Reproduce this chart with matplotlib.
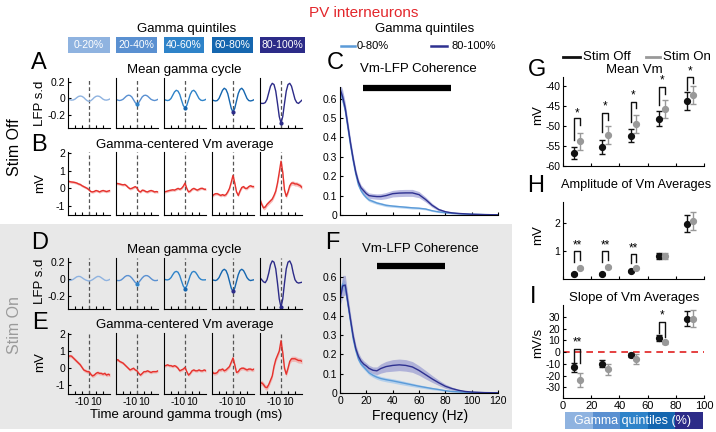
import numpy as np
import matplotlib
matplotlib.use('Agg')
import matplotlib.pyplot as plt
from matplotlib.patches import Rectangle
from matplotlib.lines import Line2D

plt.rcParams['font.family'] = ['Liberation Sans', 'DejaVu Sans']
plt.rcParams['axes.unicode_minus'] = False
plt.rcParams['axes.linewidth'] = 0.8

# ---------------- data ----------------
quintile_labels = ['0-20%', '20-40%', '40-60%', '60-80%', '80-100%']
quintile_colors = ['#8fb3e0', '#5a90d1', '#2e83c9', '#1566af', '#2c2b88']

t_ms = [-30, -27.5, -25, -22.5, -20, -17.5, -15, -12.5, -10, -7.5, -5, -2.5, 0,
        2.5, 5, 7.5, 10, 12.5, 15, 17.5, 20, 22.5, 25, 27.5, 30]

lfp_off = [
    [-0.005, -0.015, -0.02, -0.018, -0.008, 0.01, 0.025, 0.03, 0.026, 0.012, -0.01, -0.027, -0.035,
     -0.027, -0.01, 0.012, 0.026, 0.03, 0.025, 0.01, -0.008, -0.018, -0.02, -0.015, -0.005],
    [-0.01, -0.02, -0.025, -0.02, -0.01, 0.01, 0.03, 0.04, 0.037, 0.02, -0.015, -0.05, -0.07,
     -0.05, -0.015, 0.02, 0.037, 0.04, 0.03, 0.01, -0.01, -0.02, -0.025, -0.02, -0.01],
    [-0.01, -0.02, -0.025, -0.02, 0.0, 0.04, 0.08, 0.10, 0.09, 0.05, -0.02, -0.085, -0.115,
     -0.085, -0.02, 0.05, 0.09, 0.10, 0.08, 0.04, 0.0, -0.02, -0.025, -0.02, -0.01],
    [-0.015, -0.025, -0.03, -0.025, 0.0, 0.05, 0.10, 0.125, 0.11, 0.06, -0.03, -0.12, -0.167,
     -0.12, -0.03, 0.06, 0.11, 0.125, 0.10, 0.05, 0.0, -0.025, -0.03, -0.025, -0.015],
    [-0.056, -0.06, -0.06, -0.05, -0.01, 0.07, 0.15, 0.185, 0.17, 0.09, -0.06, -0.22, -0.30,
     -0.22, -0.06, 0.09, 0.17, 0.185, 0.15, 0.07, -0.01, -0.05, -0.06, -0.04, -0.02],
]
lfp_on = [
    [-0.02, -0.02, -0.015, -0.005, 0.01, 0.025, 0.03, 0.028, 0.015, 0.0, -0.012, -0.02, -0.025,
     -0.02, -0.01, 0.005, 0.02, 0.03, 0.028, 0.015, 0.0, -0.015, -0.02, -0.015, -0.005],
    [-0.015, -0.02, -0.02, -0.012, 0.005, 0.025, 0.038, 0.04, 0.032, 0.012, -0.015, -0.042, -0.055,
     -0.042, -0.015, 0.012, 0.032, 0.04, 0.038, 0.025, 0.005, -0.012, -0.02, -0.02, -0.015],
    [0.0, -0.01, -0.012, -0.005, 0.015, 0.05, 0.08, 0.09, 0.08, 0.04, -0.025, -0.085, -0.115,
     -0.085, -0.025, 0.04, 0.08, 0.09, 0.08, 0.05, 0.015, -0.005, -0.012, -0.012, -0.01],
    [-0.01, -0.015, -0.02, -0.01, 0.015, 0.06, 0.10, 0.115, 0.10, 0.05, -0.03, -0.11, -0.15,
     -0.11, -0.03, 0.05, 0.10, 0.115, 0.10, 0.06, 0.015, -0.01, -0.02, -0.015, -0.01],
    [0.015, -0.01, -0.035, -0.045, -0.01, 0.07, 0.17, 0.215, 0.20, 0.12, -0.05, -0.24, -0.34,
     -0.24, -0.05, 0.12, 0.20, 0.215, 0.17, 0.07, -0.01, -0.04, -0.05, -0.045, -0.04],
]

vm_off = [
    [0.41, 0.38, 0.36, 0.35, 0.33, 0.30, 0.25, 0.22, 0.15, 0.10, 0.05, 0.0, -0.08,
     -0.18, -0.2, -0.17, -0.12, -0.15, -0.2, -0.15, -0.12, -0.15, -0.18, -0.15, -0.12],
    [0.28, 0.27, 0.25, 0.22, 0.2, 0.22, 0.15, 0.05, -0.02, 0.0, 0.05, 0.1, 0.02,
     -0.15, -0.2, -0.1, -0.12, -0.18, -0.2, -0.15, -0.12, -0.15, -0.2, -0.18, -0.2],
    [-0.2, -0.18, -0.15, -0.12, -0.1, -0.08, -0.1, -0.05, 0.0, -0.05, 0.0, 0.12, 0.3,
     0.0, -0.2, -0.15, -0.05, 0.0, -0.05, -0.1, -0.05, 0.0, 0.0, -0.05, -0.05],
    [-0.45, -0.35, -0.3, -0.3, -0.35, -0.4, -0.35, -0.4, -0.35, -0.2, 0.0, 0.35, 0.73,
     0.3, -0.2, -0.4, -0.15, 0.05, 0.1, 0.0, 0.0, 0.1, 0.15, 0.1, 0.1],
    [-0.62, -0.9, -1.1, -1.05, -0.9, -0.8, -0.7, -0.6, -0.4, -0.15, 0.3, 0.9, 1.53,
     0.9, -0.1, -0.45, -0.2, 0.15, 0.3, 0.3, 0.25, 0.25, 0.2, 0.15, 0.05],
]
vm_on = [
    [0.66, 0.72, 0.7, 0.6, 0.5, 0.4, 0.3, 0.2, 0.05, -0.1, -0.15, -0.2, -0.2,
     -0.35, -0.45, -0.4, -0.3, -0.25, -0.3, -0.3, -0.35, -0.3, -0.4, -0.35, -0.4],
    [0.45, 0.5, 0.4, 0.35, 0.3, 0.2, 0.1, 0.0, -0.1, -0.05, 0.0, -0.1, -0.15,
     -0.3, -0.4, -0.3, -0.2, -0.2, -0.15, -0.2, -0.25, -0.2, -0.2, -0.2, -0.15],
    [0.15, 0.15, 0.2, 0.15, 0.15, 0.1, 0.15, 0.1, 0.0, -0.15, -0.1, -0.05, 0.05,
     -0.2, -0.4, -0.3, -0.15, -0.1, -0.15, -0.15, -0.1, -0.15, -0.15, -0.1, -0.15],
    [-0.2, -0.3, -0.3, -0.25, -0.1, -0.1, -0.05, -0.15, -0.1, 0.0, 0.1, 0.35, 0.6,
     0.2, -0.25, -0.2, -0.05, 0.0, 0.0, -0.05, -0.1, -0.05, -0.05, -0.1, -0.05],
    [-0.9, -0.85, -0.95, -1.1, -1.13, -0.95, -0.7, -0.45, 0.1, 0.5, 0.75, 1.0, 1.6,
     0.9, 0.0, -0.35, 0.0, 0.4, 0.55, 0.55, 0.55, 0.5, 0.45, 0.45, 0.4],
]
vm_sem_off = [0.07, 0.07, 0.07, 0.08, 0.12]
vm_sem_on = [0.1, 0.08, 0.08, 0.1, 0.15]

freq_hz = [0.5, 2, 4, 6, 8, 10, 12, 14, 16, 18, 20, 22, 25, 28, 31, 35, 40, 45, 50, 55,
           60, 65, 70, 75, 80, 85, 90, 95, 100, 110, 120]
coh_off_low = [0.63, 0.60, 0.54, 0.45, 0.36, 0.28, 0.21, 0.155, 0.125, 0.105, 0.09, 0.078, 0.07,
               0.062, 0.057, 0.05, 0.046, 0.043, 0.04, 0.037, 0.035, 0.031, 0.022, 0.016, 0.012,
               0.009, 0.007, 0.005, 0.004, 0.002, 0.001]
coh_off_high = [0.64, 0.61, 0.55, 0.46, 0.37, 0.29, 0.22, 0.17, 0.14, 0.125, 0.11, 0.10, 0.097,
                0.095, 0.095, 0.10, 0.11, 0.113, 0.114, 0.114, 0.105, 0.08, 0.05, 0.028, 0.017,
                0.011, 0.008, 0.006, 0.004, 0.002, 0.001]
coh_on_low = [0.52, 0.565, 0.55, 0.46, 0.37, 0.28, 0.22, 0.175, 0.15, 0.135, 0.12, 0.105, 0.092,
              0.082, 0.075, 0.069, 0.063, 0.056, 0.049, 0.042, 0.035, 0.029, 0.023, 0.018, 0.012,
              0.008, 0.006, 0.004, 0.003, 0.001, 0.0005]
coh_on_high = [0.50, 0.555, 0.56, 0.47, 0.38, 0.295, 0.23, 0.19, 0.165, 0.15, 0.14, 0.128, 0.118,
               0.115, 0.127, 0.137, 0.143, 0.146, 0.143, 0.135, 0.117, 0.095, 0.073, 0.053, 0.035,
               0.023, 0.014, 0.008, 0.005, 0.002, 0.001]
sem_off_low = [0.03, 0.03, 0.025, 0.02, 0.018, 0.015, 0.012, 0.01, 0.01, 0.009, 0.008, 0.008, 0.008,
               0.007, 0.007, 0.007, 0.006, 0.006, 0.006, 0.006, 0.005, 0.005, 0.004, 0.004, 0.003,
               0.003, 0.002, 0.002, 0.002, 0.001, 0.001]
sem_off_high = [0.035, 0.035, 0.03, 0.025, 0.022, 0.02, 0.018, 0.016, 0.015, 0.015, 0.014, 0.014,
                0.014, 0.014, 0.015, 0.016, 0.017, 0.018, 0.018, 0.018, 0.016, 0.013, 0.01, 0.007,
                0.005, 0.004, 0.003, 0.002, 0.002, 0.001, 0.001]
sem_on_low = [0.03, 0.03, 0.028, 0.024, 0.02, 0.017, 0.015, 0.013, 0.012, 0.012, 0.011, 0.011,
              0.011, 0.011, 0.011, 0.011, 0.011, 0.011, 0.01, 0.009, 0.008, 0.007, 0.006, 0.005,
              0.004, 0.003, 0.003, 0.002, 0.002, 0.001, 0.001]
sem_on_high = [0.04, 0.055, 0.05, 0.04, 0.03, 0.025, 0.022, 0.02, 0.018, 0.017, 0.016, 0.016,
               0.017, 0.02, 0.024, 0.027, 0.03, 0.03, 0.03, 0.028, 0.025, 0.022, 0.018, 0.014,
               0.011, 0.008, 0.006, 0.004, 0.003, 0.002, 0.001]
gamma_band_off = [17.5, 84]
gamma_band_on = [28, 80]

x_off = [8, 28, 48, 68, 88]
x_on = [12, 32, 52, 72, 92]
g_off = [-56.75, -55.25, -52.4, -48.2, -43.8]
g_off_err = [1.55, 1.75, 1.7, 1.9, 2.2]
g_on = [-53.8, -52.2, -49.6, -45.8, -42.4]
g_on_err = [2.1, 2.3, 2.2, 2.2, 2.25]
h_off = [0.19, 0.19, 0.27, 0.82, 1.98]
h_off_err = [0.03, 0.03, 0.03, 0.1, 0.31]
h_on = [0.39, 0.42, 0.41, 0.82, 2.07]
h_on_err = [0.03, 0.03, 0.03, 0.1, 0.33]
i_off = [-13, -10, -2.5, 12, 28.5]
i_off_err = [3.5, 3, 2, 2.5, 6.5]
i_on = [-23.7, -14.7, -6, 8.2, 28.5]
i_on_err = [6, 5, 4.5, 1, 7.5]

# brackets: (index, left foot, top, right foot, star y, label)
g_brackets = [(0, -53.6, -48.1, -49.8, -46.9, '*'), (1, -51.5, -46.7, -48.6, -45.2, '*'),
              (2, -49.0, -44.0, -45.6, -42.3, '*'), (3, -44.8, -40.2, -42.0, -38.6, '*'),
              (4, -41.1, -37.9, -39.4, -36.3, '*')]
h_brackets = [(0, 0.62, 1.0, 0.68, 1.21, '**'), (1, 0.62, 1.0, 0.68, 1.21, '**'),
              (2, 0.56, 0.89, 0.62, 1.09, '**')]
i_brackets = [(0, -8, 2.3, -9, 8, '**'), (3, 15.8, 25.7, 13, 31, '*')]

# ---------------- figure ----------------
W, H = 716, 432
fig = plt.figure(figsize=(W / 100, H / 100), dpi=100)


def rect(x0, y0, x1, y1):
    return [x0 / W, 1 - y1 / H, (x1 - x0) / W, (y1 - y0) / H]


def T(x, y, s, **kw):
    kw.setdefault('ha', 'center')
    kw.setdefault('va', 'center')
    return fig.text(x / W, 1 - y / H, s, **kw)


def fig_line(x0, x1, y, **kw):
    fig.add_artist(Line2D([x0 / W, x1 / W], [1 - y / H, 1 - y / H],
                          transform=fig.transFigure, **kw))


# gray background for Stim On
fig.patches.append(Rectangle((0, 1 - 429 / H), 512 / W, (429 - 224) / H,
                             transform=fig.transFigure, facecolor='#e8e8e8',
                             edgecolor='none', zorder=-10))

TICK = 7.5
TTL = 9.5


def style(ax):
    ax.patch.set_alpha(0)
    for s in ['top', 'right']:
        ax.spines[s].set_visible(False)
    ax.tick_params(direction='in', length=2.5, width=0.8, labelsize=TICK, pad=2)


lefts = [68, 116, 164, 212, 260]
pw = 42
rows = {'A': (78, 128), 'B': (152, 215), 'D': (258, 309), 'E': (333, 394)}
red = '#e5322d'

for key, (y0, y1) in rows.items():
    for q in range(5):
        ax = fig.add_axes(rect(lefts[q], y0, lefts[q] + pw, y1))
        style(ax)
        ax.set_xlim(-30, 30)
        ax.axvline(0, color='#555555', ls=(0, (3, 2)), lw=0.9)
        if key in ('A', 'D'):
            data = lfp_off[q] if key == 'A' else lfp_on[q]
            ax.plot(t_ms, data, color=quintile_colors[q], lw=1.0)
            if q > 0:
                ax.plot([0], [data[12]], 'o', ms=2, color=quintile_colors[min(q + 1, 4)])
            ax.set_ylim(-0.36, 0.25)
            ax.set_yticks([-0.2, 0, 0.2])
            ax.set_yticklabels(['-0.2', '0', '0.2'])
        else:
            data = np.array(vm_off[q] if key == 'B' else vm_on[q])
            sem = vm_sem_off[q] if key == 'B' else vm_sem_on[q]
            ax.fill_between(t_ms, data - sem, data + sem, color='#f4a3a0', alpha=0.7, lw=0)
            ax.plot(t_ms, data, color=red, lw=1.0)
            ax.set_ylim(-1.5, 2.05)
            ax.set_yticks([-1, 0, 1, 2])
            ax.set_yticklabels(['-1', '0', '1', '2'])
        ax.set_xticks([-20, -10, 0, 10, 20])
        if key == 'E':
            ax.set_xticklabels(['', '-10', '', '10', ''])
        else:
            ax.set_xticklabels([])
        if q > 0:
            ax.tick_params(axis='y', left=False, labelleft=False)

# quintile legend boxes
box_x = [(68, 110), (116, 157), (164, 204), (212, 253), (260, 305)]
for (bx0, bx1), lab, col in zip(box_x, quintile_labels, quintile_colors):
    fig.patches.append(Rectangle((bx0 / W, 1 - 53 / H), (bx1 - bx0) / W, 16 / H,
                                 transform=fig.transFigure, facecolor=col, edgecolor='none'))
    T((bx0 + bx1) / 2, 45, lab, color='white', fontsize=7.5)

T(187, 29, 'Gamma quintiles', fontsize=TTL)
T(364, 13, 'PV interneurons', fontsize=11, color='#e3262b')

# titles and labels left
T(184, 70, 'Mean gamma cycle', fontsize=TTL)
T(185, 145, 'Gamma-centered Vm average', fontsize=TTL)
T(184, 250, 'Mean gamma cycle', fontsize=TTL)
T(185, 325, 'Gamma-centered Vm average', fontsize=TTL)
T(186, 415, 'Time around gamma trough (ms)', fontsize=TTL)
T(40, 103, 'LFP s.d', fontsize=TTL, rotation=90)
T(40, 183, 'mV', fontsize=TTL, rotation=90)
T(40, 281, 'LFP s.d', fontsize=TTL, rotation=90)
T(40, 362, 'mV', fontsize=TTL, rotation=90)
T(15, 147, 'Stim Off', fontsize=11.5, rotation=90)
T(15, 325, 'Stim On', fontsize=11.5, rotation=90, color='#9a9a9a')

for lt, (lx, ly) in {'A': (39, 63), 'B': (39, 145), 'C': (335, 63), 'D': (40, 243),
                     'E': (40, 323), 'F': (332, 243), 'G': (537, 70), 'H': (536, 186),
                     'I': (533, 297)}.items():
    T(lx, ly, lt, fontsize=17)

# ---------------- coherence panels ----------------
light_c = '#5b9bd8'
dark_c = '#2e3190'


def coh_panel(box, low, high, slow, shigh, band, bar_y, ytop, xlabels):
    ax = fig.add_axes(rect(*box))
    style(ax)
    f = np.array(freq_hz)
    low, high = np.array(low), np.array(high)
    ax.fill_between(f, low - np.array(slow), low + np.array(slow), color='#9fc6ee', alpha=0.7, lw=0)
    ax.fill_between(f, high - np.array(shigh), high + np.array(shigh), color='#8386cc', alpha=0.55, lw=0)
    ax.plot(f, low, color=light_c, lw=1.0)
    ax.plot(f, high, color=dark_c, lw=1.0)
    ax.plot(band, [bar_y, bar_y], color='k', lw=4.5, solid_capstyle='butt', clip_on=False)
    ax.set_xlim(0, 120)
    ax.set_ylim(0, ytop)
    ax.set_yticks([0, 0.1, 0.2, 0.3, 0.4, 0.5, 0.6])
    ax.set_yticklabels(['0', '0.1', '0.2', '0.3', '0.4', '0.5', '0.6'])
    ax.set_xticks([0, 20, 40, 60, 80, 100, 120])
    if xlabels:
        ax.set_xticklabels(['0', '20', '40', '60', '80', '100', '120'])
    else:
        ax.set_xticklabels([])
    return ax


coh_panel((340, 87, 498, 215), coh_off_low, coh_off_high, sem_off_low, sem_off_high,
          gamma_band_off, 0.655, 0.66, False)
coh_panel((340, 258, 498, 393), coh_on_low, coh_on_high, sem_on_low, sem_on_high,
          gamma_band_on, 0.658, 0.70, True)
T(418, 69, 'Vm-LFP Coherence', fontsize=TTL)
T(420, 249, 'Vm-LFP Coherence', fontsize=TTL)
T(420, 416, 'Frequency (Hz)', fontsize=10)

T(425, 29, 'Gamma quintiles', fontsize=TTL)
fig_line(341, 355, 46, color=light_c, lw=1.8)
T(357, 46, '0-80%', fontsize=8, ha='left')
fig_line(431, 447, 46, color=dark_c, lw=1.8)
T(452, 46, '80-100%', fontsize=8, ha='left')

# ---------------- G / H / I ----------------
fig_line(563, 580, 57, color='#111111', lw=2)
T(583, 57, 'Stim Off', fontsize=9.5, ha='left')
fig_line(646, 660, 57, color='#999999', lw=2)
T(663, 57, 'Stim On', fontsize=9.5, ha='left')


def stat_panel(box, yoff, yoff_err, yon, yon_err, ylim, yticks, brackets, xlabels):
    ax = fig.add_axes(rect(*box))
    style(ax)
    ax.errorbar(x_off, yoff, yerr=yoff_err, fmt='o', color='#111111', ms=4.2,
                capsize=2, elinewidth=1, capthick=1)
    ax.errorbar(x_on, yon, yerr=yon_err, fmt='o', color='#999999', ms=4.2,
                capsize=2, elinewidth=1, capthick=1)
    for (i, lb, top, rb, sy, lab) in brackets:
        ax.plot([x_off[i], x_off[i], x_on[i], x_on[i]], [lb, top, top, rb],
                color='#111111', lw=1.0, clip_on=False)
        ax.text((x_off[i] + x_on[i]) / 2, sy, lab, ha='center', va='center',
                fontsize=8.5, clip_on=False)
    ax.set_xlim(0, 100)
    ax.set_ylim(*ylim)
    ax.set_yticks(yticks)
    ax.set_yticklabels([str(v) for v in yticks])
    ax.set_xticks([0, 20, 40, 60, 80, 100])
    if xlabels:
        ax.set_xticklabels(['0', '20', '40', '60', '80', '100'])
        ax.tick_params(axis='x', labelsize=8)
    else:
        ax.set_xticklabels([])
    return ax


stat_panel((563, 77, 704, 166), g_off, g_off_err, g_on, g_on_err, (-60, -37.8),
           [-60, -55, -50, -45, -40], g_brackets, False)
axH = stat_panel((563, 202, 704, 279), h_off, h_off_err, h_on, h_on_err, (0, 2.75),
                 [1, 2], h_brackets, False)
axI = stat_panel((563, 305, 704, 398), i_off, i_off_err, i_on, i_on_err, (-39, 40),
                 [-30, -20, -10, 0, 10, 20, 30], i_brackets, True)
axI.axhline(0, color='#e02020', ls=(0, (4, 3)), lw=1.2, zorder=0)

T(634, 70, 'Mean Vm', fontsize=TTL)
T(636, 185, 'Amplitude of Vm Averages', fontsize=9.2)
T(634, 298, 'Slope of Vm Averages', fontsize=TTL)
T(538, 115, 'mV', fontsize=TTL, rotation=90)
T(538, 235, 'mV', fontsize=TTL, rotation=90)
T(538, 343, 'mV/s', fontsize=TTL, rotation=90)

# gamma quintile color strip
axS = fig.add_axes(rect(565, 412, 703, 429))
axS.bar([10, 30, 50, 70, 90], [1] * 5, width=20, color=quintile_colors, edgecolor='none')
axS.set_xlim(0, 100)
axS.set_ylim(0, 1)
axS.axis('off')
T(633, 421, 'Gamma quintiles (%)', fontsize=9, color='white')

fig.savefig('out.png', dpi=100)
